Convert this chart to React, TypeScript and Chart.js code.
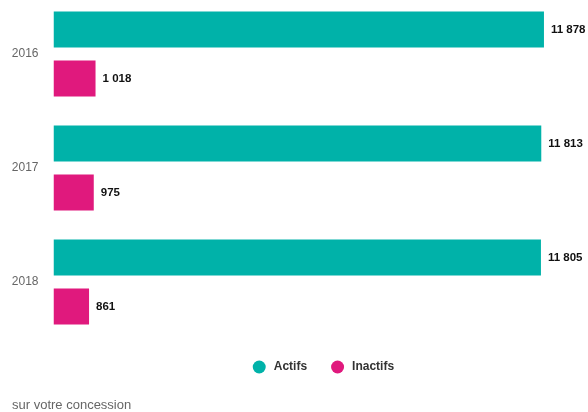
import React, { useEffect, useRef } from "react";
import { Chart, registerables } from "chart.js";

Chart.register(...registerables);

// ---- data ----
const years = ["2016", "2017", "2018"];
const actifs = [11878, 11813, 11805];
const inactifs = [1018, 975, 861];
const seriesLabels = ["Actifs", "Inactifs"];
const seriesColors = ["#00B2A9", "#E0197D"];
const footnote = "sur votre concession";
const xMax = 12000;

const FONT = '"Helvetica Neue", Helvetica, Arial, "Liberation Sans", sans-serif';

const fmt = (v: number) => String(v).replace(/\B(?=(\d{3})+(?!\d))/g, " ");

const valueLabels = {
  id: "valueLabels",
  afterDatasetsDraw(chart: any) {
    const ctx = chart.ctx;
    ctx.save();
    ctx.font = `bold 11.5px ${FONT}`;
    ctx.fillStyle = "#111";
    ctx.textAlign = "left";
    ctx.textBaseline = "middle";
    chart.data.datasets.forEach((ds: any, i: number) => {
      const meta = chart.getDatasetMeta(i);
      meta.data.forEach((bar: any, j: number) => {
        ctx.fillText(fmt(ds.data[j]), bar.x + 7, bar.y + 0.5);
      });
    });
    ctx.restore();
  },
};

const pointLegend = {
  id: "pointLegend",
  afterDraw(chart: any) {
    const ctx = chart.ctx;
    const ds = chart.data.datasets;
    const r = 6.5;
    const gapText = 8;
    const gapItem = 24;
    ctx.save();
    ctx.font = `bold 12px ${FONT}`;
    const widths = ds.map((d: any) => ctx.measureText(d.label).width);
    let total = 0;
    widths.forEach((w: number, i: number) => {
      total += 2 * r + gapText + w + (i < widths.length - 1 ? gapItem : 0);
    });
    let x = chart.width * 0.55 - total / 2;
    const y = chart.chartArea.bottom + 28;
    ds.forEach((d: any, i: number) => {
      ctx.beginPath();
      ctx.fillStyle = d.backgroundColor;
      ctx.arc(x + r, y, r, 0, Math.PI * 2);
      ctx.fill();
      ctx.fillStyle = "#333";
      ctx.textAlign = "left";
      ctx.textBaseline = "middle";
      ctx.fillText(d.label, x + 2 * r + gapText, y);
      x += 2 * r + gapText + widths[i] + gapItem;
    });
    ctx.restore();
  },
};

export default function App() {
  const ref = useRef<HTMLCanvasElement | null>(null);

  useEffect(() => {
    if (!ref.current) return;
    const chart = new Chart(ref.current, {
      type: "bar",
      data: {
        labels: years,
        datasets: [
          {
            label: seriesLabels[0],
            data: actifs,
            backgroundColor: seriesColors[0],
            categoryPercentage: 0.857,
            barPercentage: 0.735,
          },
          {
            label: seriesLabels[1],
            data: inactifs,
            backgroundColor: seriesColors[1],
            categoryPercentage: 0.857,
            barPercentage: 0.735,
          },
        ],
      },
      options: {
        indexAxis: "y",
        responsive: false,
        animation: false,
        devicePixelRatio: 1,
        layout: { padding: { left: 12, right: 39, top: 0, bottom: 0 } },
        scales: {
          x: { display: false, min: 0, max: xMax },
          y: {
            grid: { display: false, drawTicks: false },
            border: { display: false },
            ticks: { color: "#666", font: { family: FONT, size: 12 }, padding: 15 },
            afterFit: (s: any) => {
              s.width = 41.5;
              s.paddingTop = 0;
              s.paddingBottom = 0;
            },
          },
        },
        plugins: {
          legend: { display: false },
          tooltip: { enabled: false },
          title: {
            display: true,
            text: footnote,
            position: "bottom",
            align: "start",
            color: "#666",
            font: { family: FONT, size: 13, weight: "normal", lineHeight: 1.2 },
            padding: { top: 58.4, bottom: 0 },
          },
        },
      } as any,
      plugins: [valueLabels, pointLegend],
    });
    return () => chart.destroy();
  }, []);

  return (
    <div style={{ position: "absolute", left: 0, top: -3, width: 588, height: 416 }}>
      <canvas ref={ref} width={588} height={416} style={{ display: "block" }} />
    </div>
  );
}
